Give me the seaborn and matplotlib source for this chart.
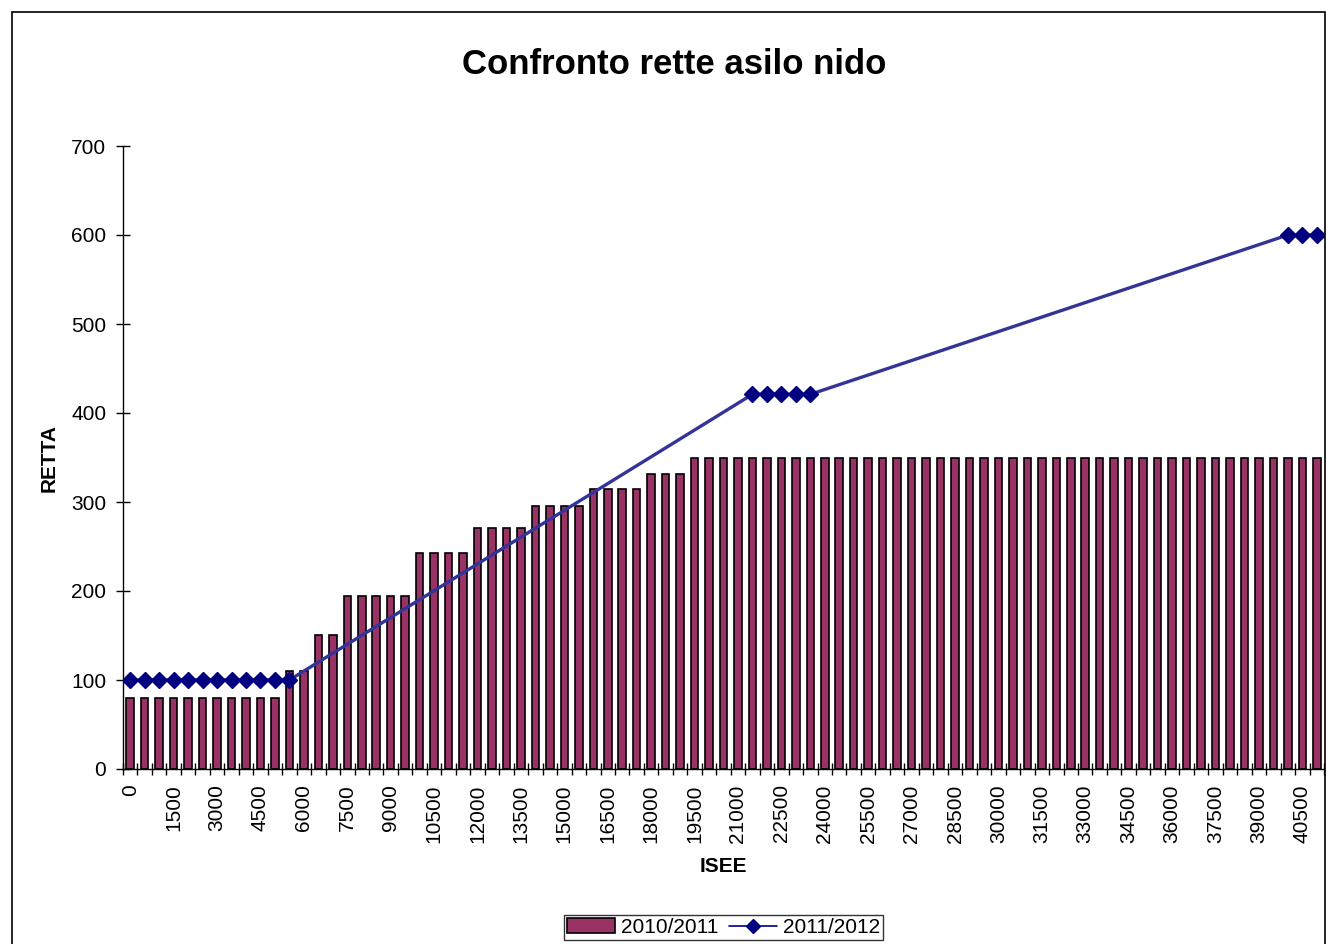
import numpy as np
import pandas as pd
import matplotlib
matplotlib.use("Agg")
import matplotlib.pyplot as plt
import seaborn as sns
from matplotlib.patches import Rectangle, Patch
from matplotlib.lines import Line2D
from matplotlib.ticker import FixedLocator

# categories: ISEE from 0 to 41000, step 500
isee = [str(v) for v in range(0, 41001, 500)]
# 2010/2011 fees (bars)
rette_2010 = ([80] * 11 + [110] * 2 + [151] * 2 + [194] * 5 + [243] * 4 +
              [271] * 4 + [296] * 4 + [315] * 4 + [332] * 3 + [350] * 44)
# 2011/2012 fees (line), only the marked points
nan = np.nan
rette_2011 = [100] * 12 + [nan] * 31 + [421] * 5 + [nan] * 32 + [600] * 3

df = pd.DataFrame({"ISEE": isee, "2010/2011": rette_2010, "2011/2012": rette_2011})

sns.set_style("white")
plt.rcParams["font.family"] = ["Liberation Sans", "DejaVu Sans"]
plt.rcParams["text.color"] = "black"
plt.rcParams["axes.labelcolor"] = "black"
plt.rcParams["xtick.color"] = "black"
plt.rcParams["ytick.color"] = "black"

W, H = 1326, 944
fig = plt.figure(figsize=(W / 100, H / 100), dpi=100)
ax = fig.add_axes([123 / W, 175 / H, (1324 - 123) / W, (769 - 146) / H])

sns.barplot(data=df, x="ISEE", y="2010/2011", color="#993366", saturation=1,
            width=0.52, edgecolor="black", linewidth=1.2, ax=ax)

line = df.dropna(subset=["2011/2012"])
ax.plot(line.index, line["2011/2012"], color="#333399", lw=2.4, marker="D",
        ms=8, mfc="#000080", mec="#000080", zorder=5)

ax.set_xlim(-0.5, len(isee) - 0.5)
ax.set_ylim(0, 700)
ax.set_yticks(range(0, 701, 100))
ax.set_xticks(range(0, len(isee), 3))
ax.set_xticklabels(isee[::3], rotation=90)
ax.xaxis.set_minor_locator(FixedLocator(np.arange(-0.5, len(isee), 1)))
ax.tick_params(axis="x", which="major", length=0, pad=11, labelsize=15)
ax.tick_params(axis="x", which="minor", direction="inout", length=9, width=1, color="black", bottom=True)
ax.tick_params(axis="y", direction="inout", length=10, width=1, color="black", left=True, pad=7, labelsize=15)

for s in ["top", "right"]:
    ax.spines[s].set_visible(False)
for s in ["left", "bottom"]:
    ax.spines[s].set_color("black")
    ax.spines[s].set_linewidth(1)

ax.set_xlabel("ISEE", fontsize=15, fontweight="bold", labelpad=10)
ax.set_ylabel("RETTA", fontsize=15, fontweight="bold", labelpad=9)

fig.text(674.5 / W, 1 - 64 / H, "Confronto rette asilo nido", fontsize=25,
         fontweight="bold", ha="center", va="center")

handles = [Patch(facecolor="#993366", edgecolor="black", linewidth=1.2),
           Line2D([], [], color="#000080", lw=1.2, marker="D", ms=7)]
fig.legend(handles, ["2010/2011", "2011/2012"], loc="lower center",
           bbox_to_anchor=(723.5 / W, 4 / H), ncol=2, fontsize=15, frameon=True,
           fancybox=False, edgecolor="black", borderpad=0.15, columnspacing=0.5,
           handletextpad=0.3, handlelength=2.3, borderaxespad=0)

fig.patches.append(Rectangle((12 / W, -0.01), (1325 - 12) / W, 1 - 12 / H + 0.01,
                             transform=fig.transFigure, fill=False,
                             edgecolor="black", lw=1.2))

fig.savefig("out.png", dpi=100)
